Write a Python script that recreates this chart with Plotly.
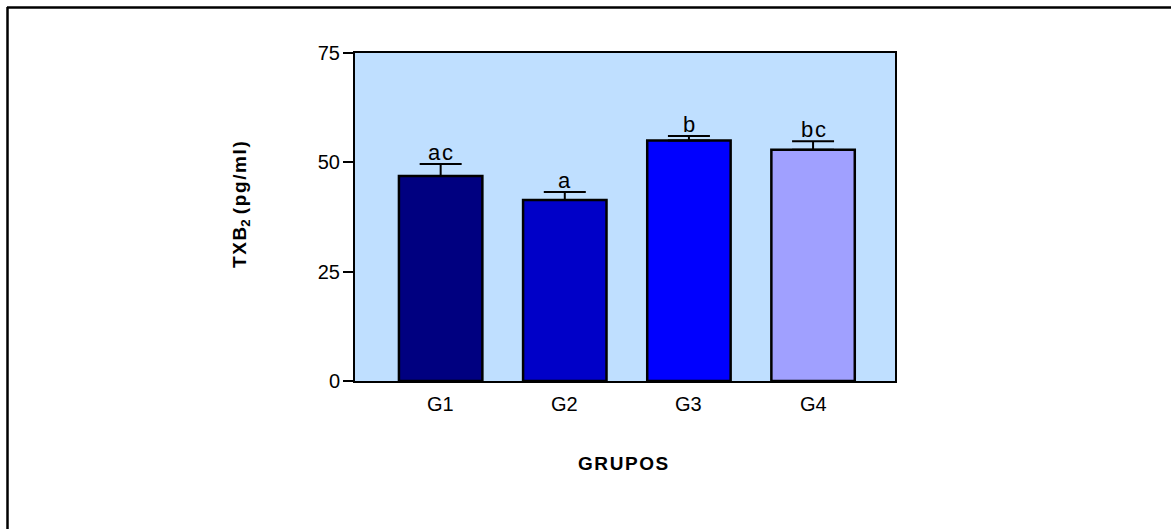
import plotly.graph_objects as go

# Thromboxane B2 levels per group (mean with upper SEM)
groups = ["G1", "G2", "G3", "G4"]
txb2_mean = [46.9, 41.4, 55.0, 52.9]
txb2_sem = [2.7, 1.8, 1.0, 1.9]
sig_letters = ["ac", "a", "b", "bc"]
bar_colors = ["#000080", "#0000C8", "#0000FF", "#A0A0FF"]
y_ticks = [0, 25, 50, 75]

W, H = 1171, 529
L, R, T, B = 355, 276, 53, 148
pw, ph = W - L - R, H - T - B

def px_x(p):
    return (p - L) / pw

def px_y(p):
    return (H - B - p) / ph

SP = "\u200A"  # hair space for slight letter spacing
FONT = "Liberation Sans, Arial, sans-serif"

fig = go.Figure()
fig.add_trace(go.Bar(
    x=list(range(len(groups))),
    y=txb2_mean,
    marker=dict(color=bar_colors, line=dict(color="black", width=2.5)),
    error_y=dict(type="data", array=txb2_sem, symmetric=False,
                 arrayminus=[0] * len(groups), color="black",
                 thickness=2, width=21),
    showlegend=False,
))

for i, (m, s, t) in enumerate(zip(txb2_mean, txb2_sem, sig_letters)):
    fig.add_annotation(x=i, y=m + s, text=SP.join(t), showarrow=False,
                       yanchor="bottom", yshift=-3,
                       font=dict(size=22, color="black", family=FONT))

# group labels under the bars
for i, g in enumerate(groups):
    fig.add_annotation(x=i, xref="x", yref="paper", y=px_y(404),
                       xanchor="center", yanchor="middle", text=g,
                       showarrow=False, font=dict(size=20, color="black", family=FONT))

fig.add_annotation(xref="paper", yref="paper", x=px_x(241), y=px_y(205),
                   xanchor="center", yanchor="middle",
                   text="<b>" + SP.join("TXB") + "<sub>2</sub>" + " "
                        + SP.join("(pg/ml)") + "</b>",
                   textangle=-90, showarrow=False,
                   font=dict(size=19, color="black", family=FONT))
fig.add_annotation(xref="paper", yref="paper", x=px_x(623), y=px_y(463),
                   xanchor="center", yanchor="middle",
                   text="<b>" + SP.join("GRUPOS") + "</b>", showarrow=False,
                   font=dict(size=19, color="black", family=FONT))

# outer figure frame (top and left edges)
fig.add_shape(type="line", xref="paper", yref="paper",
              x0=px_x(7), x1=px_x(W + 5), y0=px_y(7.5), y1=px_y(7.5),
              line=dict(color="black", width=2.5))
fig.add_shape(type="line", xref="paper", yref="paper",
              x0=px_x(7.5), x1=px_x(7.5), y0=px_y(7), y1=px_y(H + 5),
              line=dict(color="black", width=2.5))

fig.update_layout(
    width=W, height=H,
    margin=dict(l=L, r=R, t=T, b=B, pad=0),
    paper_bgcolor="white",
    plot_bgcolor="#BFDFFF",
    bargap=0.328,
    font=dict(family=FONT, size=20, color="black"),
    xaxis=dict(range=[-0.69, 3.66], tickvals=list(range(len(groups))),
               showticklabels=False, showline=True, linecolor="black",
               linewidth=2, mirror=True, ticks="", showgrid=False,
               zeroline=False, fixedrange=True),
    yaxis=dict(range=[0, 75], tickvals=y_ticks, showline=True,
               linecolor="black", linewidth=2, mirror=True, ticks="outside",
               ticklen=10, tickwidth=1.5, tickcolor="black", showgrid=False,
               zeroline=False, ticklabelstandoff=-1, fixedrange=True),
)

fig.write_html("out.html")
